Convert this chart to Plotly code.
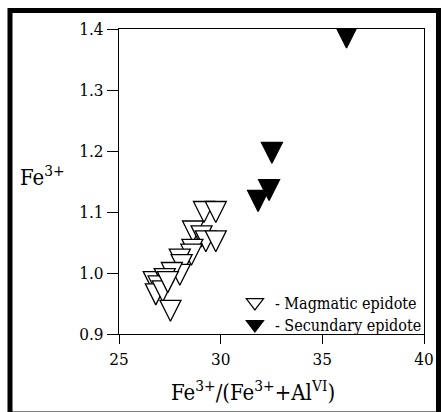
import plotly.graph_objects as go

# ---- data ----
magmatic_x = [29.18, 29.76, 28.64, 29.06, 29.27, 29.76, 28.61, 28.56, 27.99, 28.08,
              27.99, 27.60, 26.71, 27.25, 26.95, 26.81, 27.15, 27.40, 27.53]
magmatic_y = [1.100, 1.100, 1.068, 1.060, 1.052, 1.052, 1.038, 1.030, 1.022, 1.013,
              0.997, 1.000, 0.985, 0.990, 0.978, 0.965, 0.970, 0.985, 0.938]
secondary_x = [36.19, 32.52, 32.38, 31.84]
secondary_y = [1.386, 1.197, 1.136, 1.118]

series_names = ["- Magmatic epidote", "- Secundary epidote"]
x_ticks = [25, 30, 35, 40]
y_ticks = [0.9, 1.0, 1.1, 1.2, 1.3, 1.4]
x_title = "Fe<sup>3+</sup>/(Fe<sup>3+</sup>+Al<sup>VI</sup>)"
y_title = "Fe<sup>3+</sup>"

FONT = "DejaVu Serif Condensed, DejaVu Serif, serif"
MS = 21

fig = go.Figure()
# data traces (triangles centred on the data point)
fig.add_trace(go.Scatter(
    x=magmatic_x, y=magmatic_y, mode="markers", name=series_names[0], showlegend=False,
    marker=dict(symbol="arrow-down", size=MS, standoff=MS / 2, color="white",
                line=dict(color="black", width=1.3)),
))
fig.add_trace(go.Scatter(
    x=secondary_x, y=secondary_y, mode="markers", name=series_names[1], showlegend=False,
    marker=dict(symbol="arrow-down", size=MS, standoff=MS / 2, color="black",
                line=dict(color="black", width=1.3)),
))
# legend entries
fig.add_trace(go.Scatter(
    x=[None], y=[None], mode="markers", name=series_names[0], legend="legend",
    marker=dict(symbol="triangle-down", size=15, color="white",
                line=dict(color="black", width=1.2)),
))
fig.add_trace(go.Scatter(
    x=[None], y=[None], mode="markers", name=series_names[1], legend="legend2",
    marker=dict(symbol="triangle-down", size=15, color="black",
                line=dict(color="black", width=1.2)),
))

axis_common = dict(
    showgrid=False, zeroline=False, showline=True, linecolor="black", linewidth=1.2,
    mirror=True, ticks="outside", tickcolor="black", tickwidth=1.2,
    tickfont=dict(family=FONT, size=17, color="black"),
)

fig.update_xaxes(range=[25, 40], tickvals=x_ticks, ticklen=9, **axis_common)
fig.update_yaxes(range=[0.9, 1.4], tickvals=y_ticks, tickformat=".1f", ticklen=11,
                 **axis_common)

legend_common = dict(xanchor="left", yanchor="middle", bgcolor="rgba(0,0,0,0)",
                     font=dict(family=FONT, size=16, color="black"))

fig.update_layout(
    width=441, height=412,
    margin=dict(l=119, r=17, t=29, b=78, autoexpand=False),
    paper_bgcolor="white", plot_bgcolor="white",
    font=dict(family=FONT, color="black"),
    showlegend=True,
    legend=dict(x=0.380, y=0.1033, **legend_common),
    legend2=dict(x=0.380, y=0.0311, **legend_common),
    annotations=[
        dict(text=x_title, xref="paper", yref="paper", x=0.44, y=-0.186,
             xanchor="center", yanchor="middle", showarrow=False,
             font=dict(family=FONT, size=22, color="black")),
        dict(text=y_title, xref="paper", yref="paper", x=-0.3311, y=0.518,
             xanchor="left", yanchor="middle", showarrow=False,
             font=dict(family=FONT, size=22, color="black")),
    ],
    shapes=[
        dict(type="rect", xref="paper", yref="paper",
             x0=-0.3574, x1=1.0475, y0=-0.2623, y1=1.0607,
             line=dict(color="black", width=5), fillcolor="rgba(0,0,0,0)", layer="above"),
    ],
)

fig.write_html("out.html")
